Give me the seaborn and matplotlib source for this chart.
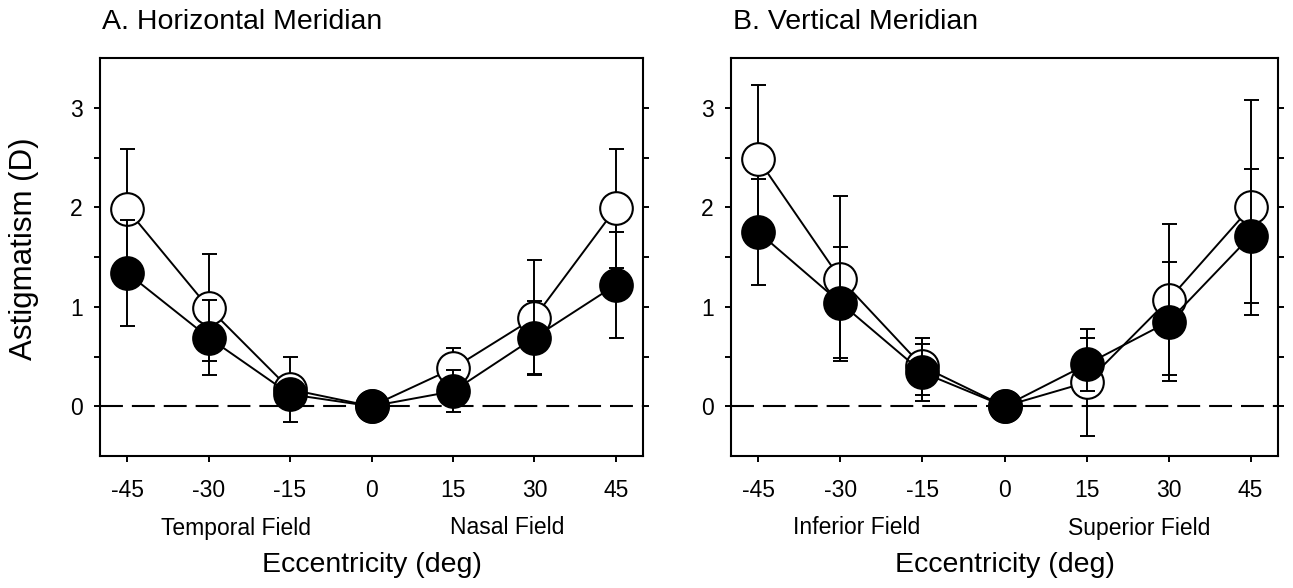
import matplotlib
matplotlib.use("Agg")
import matplotlib.pyplot as plt
import matplotlib.transforms as mtransforms
import seaborn as sns

# Eccentricity positions (deg)
eccentricity = [-45, -30, -15, 0, 15, 30, 45]
ecc_labels = ["-45", "-30", "-15", "0", "15", "30", "45"]

# Horizontal meridian: open and filled series (mean, error)
horiz_open = [1.98, 0.99, 0.17, 0.0, 0.38, 0.89, 1.99]
horiz_open_err = [0.61, 0.54, 0.33, 0.0, 0.21, 0.58, 0.60]
horiz_filled = [1.34, 0.69, 0.12, 0.0, 0.15, 0.69, 1.22]
horiz_filled_err = [0.53, 0.38, 0.12, 0.0, 0.21, 0.37, 0.53]

# Vertical meridian: open and filled series (mean, error)
vert_open = [2.48, 1.28, 0.40, 0.0, 0.24, 1.07, 2.00]
vert_open_err = [0.75, 0.83, 0.29, 0.0, 0.54, 0.76, 1.08]
vert_filled = [1.75, 1.04, 0.34, 0.0, 0.42, 0.85, 1.71]
vert_filled_err = [0.53, 0.56, 0.29, 0.0, 0.27, 0.60, 0.67]

panel_titles = ["A. Horizontal Meridian", "B. Vertical Meridian"]
field_labels = [("Temporal Field", -25, "Nasal Field", 25),
                ("Inferior Field", -27, "Superior Field", 24.6)]
y_major = [0, 1, 2, 3]
y_minor = [0.5, 1.5, 2.5]

sns.set_theme(style="ticks")
plt.rcParams["font.family"] = ["Liberation Sans", "DejaVu Sans"]
plt.rcParams["axes.unicode_minus"] = False

W, H = 1293, 588
fig = plt.figure(figsize=(W / 100, H / 100), dpi=100)
fig.patch.set_facecolor("white")

ax_rects = [
    [100 / W, 1 - 456 / H, 543 / W, 398 / H],
    [731 / W, 1 - 456 / H, 547 / W, 398 / H],
]

series = [
    (horiz_open, horiz_open_err, horiz_filled, horiz_filled_err),
    (vert_open, vert_open_err, vert_filled, vert_filled_err),
]

LW = 1.4
MS = 23.5
for i, (rect, (o, oe, f, fe)) in enumerate(zip(ax_rects, series)):
    ax = fig.add_axes(rect)
    ax.set_facecolor("white")

    ax.axhline(0, color="black", lw=1.5, dashes=(11, 4.3), zorder=1)

    # open circles
    ax.errorbar(eccentricity, o, yerr=oe, fmt="none", ecolor="black",
                elinewidth=LW, capsize=5.4, capthick=LW, zorder=2)
    sns.lineplot(x=eccentricity, y=o, ax=ax, color="black", linewidth=LW,
                 marker="o", markersize=MS, markerfacecolor="white",
                 markeredgecolor="black", markeredgewidth=1.5, zorder=3)
    # filled circles
    ax.errorbar(eccentricity, f, yerr=fe, fmt="none", ecolor="black",
                elinewidth=LW, capsize=5.4, capthick=LW, zorder=4)
    sns.lineplot(x=eccentricity, y=f, ax=ax, color="black", linewidth=LW,
                 marker="o", markersize=MS, markerfacecolor="black",
                 markeredgecolor="black", markeredgewidth=1.5, zorder=5)

    ax.set_xlim(-50, 50)
    ax.set_ylim(-0.5, 3.5)
    ax.set_xticks(eccentricity)
    ax.set_xticklabels(ecc_labels)
    ax.set_yticks(y_major)
    ax.set_yticklabels([str(v) for v in y_major])
    ax.set_yticks(y_minor, minor=True)

    for sp in ax.spines.values():
        sp.set_visible(True)
        sp.set_linewidth(1.5)
        sp.set_color("black")

    ax.tick_params(axis="both", which="both", direction="out", length=4.5,
                   width=1.4, color="black", labelcolor="black")
    ax.tick_params(axis="y", which="both", left=True, right=True,
                   labelsize=16.5, pad=8)
    ax.tick_params(axis="x", which="both", bottom=True, top=False,
                   labelsize=16.5, pad=12)

    ax.set_xlabel("Eccentricity (deg)", fontsize=20.5, color="black")
    ax.xaxis.set_label_coords(0.5, -0.274)
    ax.xaxis.label.set_verticalalignment("center")

    if i == 0:
        ax.set_ylabel("Astigmatism (D)", fontsize=22.5, color="black")
        ax.yaxis.set_label_coords(-0.14, 0.52)
        ax.yaxis.label.set_verticalalignment("center")
    else:
        ax.set_ylabel("")

    # field annotations under the tick labels
    trans = mtransforms.blended_transform_factory(ax.transData, fig.transFigure)
    lab_l, x_l, lab_r, x_r = field_labels[i]
    ax.text(x_l, 1 - 528 / H, lab_l, transform=trans, ha="center",
            va="center", fontsize=16.5, color="black")
    ax.text(x_r, 1 - 528 / H, lab_r, transform=trans, ha="center",
            va="center", fontsize=16.5, color="black")

    fig.text(rect[0] + 2 / W, 1 - 22 / H, panel_titles[i], ha="left",
             va="center", fontsize=20.5, color="black")

fig.savefig("out.png", dpi=100, facecolor="white")
